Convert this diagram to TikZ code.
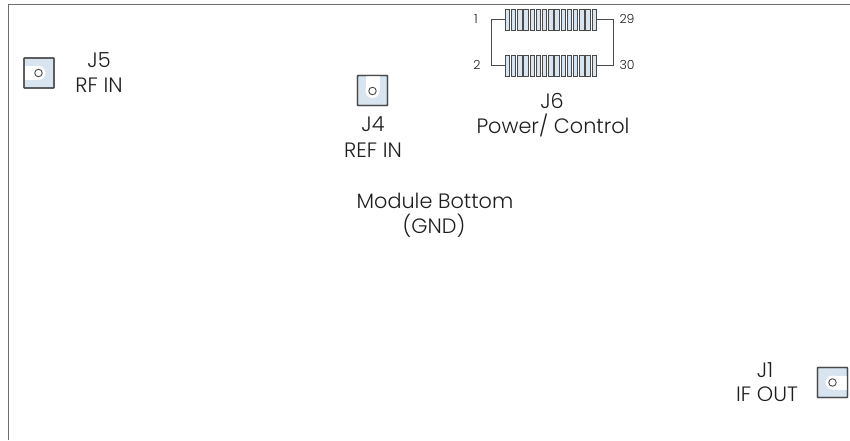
\documentclass[tikz,border=0pt]{standalone}
\usepackage{fontspec}
\setmainfont{Poppins}[UprightFont=* Light]
\definecolor{wallc}{HTML}{6E6E6E}
\definecolor{padc}{HTML}{D8E5F1}
\definecolor{edgec}{HTML}{4A4A4A}
\definecolor{txtc}{HTML}{1E1E1E}
\tikzset{
  lbl/.style={font=\fontsize{20.8}{22}\selectfont,text=txtc,inner sep=0pt,align=center,text height=14.6pt,text depth=0pt},
  pinlbl/.style={font=\fontsize{12.5}{13}\selectfont,text=txtc,inner sep=0pt,text height=8.8pt,text depth=0pt},
  pad/.style={draw=edgec,line width=1.3pt,fill=padc,minimum size=30pt,inner sep=0pt,rounded corners=0.6pt},
  padedge/.style={draw=edgec,line width=1.3pt,minimum size=30pt,inner sep=0pt,rounded corners=0.6pt},
  hole/.style={circle,draw=edgec,line width=0.9pt,fill=white,minimum size=7.5pt,inner sep=0pt},
  slotend/.style={white},
  pin/.style={draw=edgec,line width=1pt,fill=padc,minimum width=4.4pt,minimum height=21pt,inner sep=0pt},
  wire/.style={draw=edgec,line width=0.9pt}
}
\begin{document}
\begin{tikzpicture}[x=1pt,y=-1pt]
\useasboundingbox (0,0) rectangle (850,440);
\coordinate (ftl) at (8.5,4.5);
\coordinate (ftr) at (850,4.5);
\coordinate (fbl) at (8.5,440);
\draw[wallc,line width=1.1pt] (fbl) -- (ftl) -- (ftr);

% J5
\node[pad] (j5) at (39,73) {};
\fill[slotend] (25,66) rectangle (38.5,80);
\fill[slotend] (38.5,73) circle[radius=7pt];
\node[hole] (j5h) at (38.5,73) {};
\node[padedge] at (39,73) {};
\node[lbl] (j5a) at (99,60) {J5};
\node[lbl] (j5b) at (99,85) {RF IN};

% J4
\node[pad] (j4) at (372.5,90.5) {};
\fill[slotend] (365.5,76) rectangle (379.5,91);
\fill[slotend] (372.5,91) circle[radius=7pt];
\node[hole] (j4h) at (372.5,91) {};
\node[padedge] at (372.5,90.5) {};
\node[lbl] (j4a) at (373,124) {J4};
\node[lbl] (j4b) at (373,150) {REF IN};

% J1
\node[pad] (j1) at (832.5,382.5) {};
\fill[slotend] (832.5,375.5) rectangle (847,389.5);
\fill[slotend] (832.5,382.5) circle[radius=7pt];
\node[hole] (j1h) at (832.5,382.5) {};
\node[padedge] at (832.5,382.5) {};
\node[lbl] (j1a) at (765,370) {J1};
\node[lbl] (j1b) at (767,394.5) {IF OUT};

% J6
\foreach \i in {0,...,14}{
  \node[pin] (t\i) at ({507.5+\i*6.2},19.5) {};
  \node[pin] (b\i) at ({507.5+\i*6.2},65.5) {};
}
\draw[wire] (t0.west) -- (491,19.5) -- (491,65.5) -- (b0.west);
\draw[wire] (t14.east) -- (613,19.5) -- (613,65.5) -- (b14.east);
\node[pinlbl] (p1) at (476,19) {1};
\node[pinlbl] (p2) at (477,65) {2};
\node[pinlbl] (p29) at (627,19) {29};
\node[pinlbl] (p30) at (627,65) {30};
\node[lbl] (j6a) at (552,101) {J6};
\node[lbl] (j6b) at (553,126) {Power/ Control};

\node[lbl] (m1) at (435,201) {Module Bottom};
\node[lbl] (m2) at (434,226) {(GND)};
\end{tikzpicture}
\end{document}
